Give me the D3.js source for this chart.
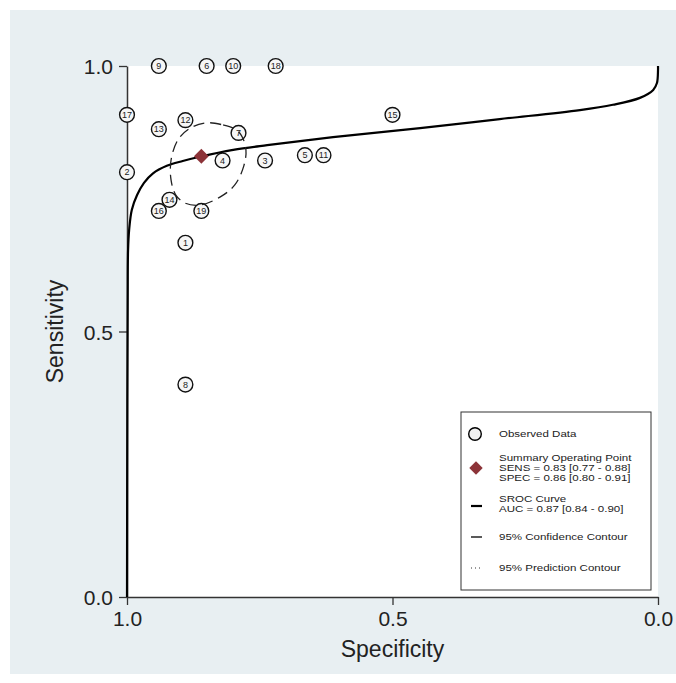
<!DOCTYPE html>
<html>
<head>
<meta charset="utf-8">
<script src="https://cdn.jsdelivr.net/npm/d3@7"></script>
<style>
  body { margin: 0; background: #ffffff; }
  svg text { font-family: "Liberation Sans", Arial, sans-serif; }
</style>
</head>
<body>
<div id="chart"></div>
<script>
// study points (specificity, sensitivity)
var studyIds  = [1, 2, 3, 4, 5, 6, 7, 8, 9, 10, 11, 12, 13, 14, 15, 16, 17, 18, 19];
var studySpec = [0.89, 1.00, 0.74, 0.82, 0.665, 0.85, 0.79, 0.89, 0.94, 0.80, 0.63, 0.89, 0.94, 0.92, 0.50, 0.94, 1.00, 0.72, 0.86];
var studySens = [0.667, 0.80, 0.822, 0.822, 0.832, 1.00, 0.874, 0.40, 1.00, 1.00, 0.832, 0.898, 0.881, 0.748, 0.908, 0.727, 0.908, 1.00, 0.727];

// summary operating point
var summarySpec = 0.86;
var summarySens = 0.83;

// SROC curve, traced
var srocSpec = [1.0, 0.9994, 0.9987, 0.998, 0.996, 0.991, 0.981, 0.968, 0.951, 0.925, 0.895, 0.863, 0.800, 0.736, 0.612, 0.448, 0.298, 0.147, 0.085, 0.034, 0.009, 0.002, 0.0, 0.0];
var srocSens = [0.0, 0.371, 0.559, 0.653, 0.691, 0.729, 0.757, 0.780, 0.798, 0.812, 0.821, 0.829, 0.842, 0.851, 0.866, 0.883, 0.900, 0.917, 0.927, 0.940, 0.955, 0.968, 0.992, 1.0];

// 95% confidence contour, traced
var confSpec = [0.849, 0.819, 0.800, 0.785, 0.776, 0.780, 0.797, 0.825, 0.863, 0.891, 0.908, 0.917, 0.917, 0.904, 0.881];
var confSens = [0.893, 0.889, 0.883, 0.870, 0.842, 0.812, 0.776, 0.753, 0.738, 0.742, 0.757, 0.785, 0.823, 0.861, 0.883];

var tickValues = [0, 0.5, 1];

var legendLines = [
  ["Observed Data"],
  ["Summary Operating Point", "SENS = 0.83 [0.77 - 0.88]", "SPEC = 0.86 [0.80 - 0.91]"],
  ["SROC Curve", "AUC = 0.87 [0.84 - 0.90]"],
  ["95% Confidence Contour"],
  ["95% Prediction Contour"]
];

var svgWidth = 676;
var svgHeight = 683;

var margin = { top: 66, right: 18, bottom: 86, left: 127 };
var width = 531;
var height = 531;

var svg = d3.select("#chart")
  .append("svg")
  .attr("width", svgWidth)
  .attr("height", svgHeight);

// outer panel
svg.append("rect")
  .attr("x", 10).attr("y", 10)
  .attr("width", 666).attr("height", 664)
  .attr("fill", "#e8eff2");

var chartGroup = svg.append("g")
  .attr("transform", `translate(${margin.left}, ${margin.top})`);

chartGroup.append("rect")
  .attr("width", width).attr("height", height)
  .attr("fill", "#ffffff");

var xScale = d3.scaleLinear().domain([1, 0]).range([0, width]);
var yScale = d3.scaleLinear().domain([0, 1]).range([height, 0]);

// axes
var bottomAxis = d3.axisBottom(xScale).tickValues(tickValues).tickFormat(d3.format(".1f")).tickSize(8).tickSizeOuter(0);
var leftAxis = d3.axisLeft(yScale).tickValues(tickValues).tickFormat(d3.format(".1f")).tickSize(8).tickSizeOuter(0);

var xAxisG = chartGroup.append("g")
  .attr("transform", `translate(0, ${height})`)
  .call(bottomAxis);
var yAxisG = chartGroup.append("g").call(leftAxis);

[xAxisG, yAxisG].forEach(function(g) {
  g.select(".domain").attr("stroke", "#333").attr("stroke-width", 1.5);
  g.selectAll(".tick line").attr("stroke", "#333").attr("stroke-width", 1.3);
  g.selectAll(".tick text")
    .attr("font-size", "21px")
    .attr("font-family", "Liberation Sans, Arial, sans-serif")
    .attr("fill", "#222");
});
xAxisG.selectAll(".tick text").attr("y", 9).attr("dy", "0.95em");
yAxisG.selectAll(".tick text").attr("x", -14).attr("dy", "0.36em");

// axis titles
chartGroup.append("text")
  .attr("transform", "rotate(-90)")
  .attr("x", -height / 2)
  .attr("y", -64)
  .attr("text-anchor", "middle")
  .attr("font-size", "23px")
  .attr("fill", "#222")
  .text("Sensitivity");

chartGroup.append("text")
  .attr("x", width / 2)
  .attr("y", height + 60)
  .attr("text-anchor", "middle")
  .attr("font-size", "23px")
  .attr("fill", "#222")
  .text("Specificity");

// observed studies
var studies = studyIds.map(function(id, i) {
  return { id: id, spec: studySpec[i], sens: studySens[i] };
});

var studyGroup = chartGroup.selectAll(".study")
  .data(studies)
  .enter()
  .append("g")
  .attr("class", "study")
  .attr("transform", d => `translate(${xScale(d.spec)}, ${yScale(d.sens)})`);

studyGroup.append("circle")
  .attr("r", 7.4)
  .attr("fill", "#f6f6f6")
  .attr("stroke", "#111")
  .attr("stroke-width", 1.4);

studyGroup.append("text")
  .attr("text-anchor", "middle")
  .attr("dy", "0.36em")
  .attr("font-size", "9px")
  .attr("fill", "#222")
  .text(d => d.id);

// SROC curve
var srocData = srocSpec.map((s, i) => [s, srocSens[i]]);
var line = d3.line()
  .x(d => xScale(d[0]))
  .y(d => yScale(d[1]))
  .curve(d3.curveCatmullRom);

chartGroup.append("path")
  .datum(srocData)
  .attr("d", line)
  .attr("fill", "none")
  .attr("stroke", "#000")
  .attr("stroke-width", 2.2);

// confidence contour
var confData = confSpec.map((s, i) => [s, confSens[i]]);
chartGroup.append("path")
  .datum(confData)
  .attr("d", d3.line().x(d => xScale(d[0])).y(d => yScale(d[1])).curve(d3.curveCatmullRomClosed))
  .attr("fill", "none")
  .attr("stroke", "#222")
  .attr("stroke-width", 1.3)
  .attr("stroke-dasharray", "11,6");

// summary point
chartGroup.append("path")
  .attr("d", d3.symbol().type(d3.symbolDiamond2).size(140))
  .attr("transform", `translate(${xScale(summarySpec)}, ${yScale(summarySens)})`)
  .attr("fill", "#8c3338");

// legend
var legend = svg.append("g").attr("transform", "translate(461, 412)");
legend.append("rect")
  .attr("width", 190).attr("height", 178)
  .attr("fill", "#ffffff")
  .attr("stroke", "#333")
  .attr("stroke-width", 1);

var legendY = [22, 46, 87, 125, 156];
var lineGap = 10;

legend.append("circle")
  .attr("cx", 14).attr("cy", legendY[0])
  .attr("r", 6.3)
  .attr("fill", "#f0f0f0")
  .attr("stroke", "#000")
  .attr("stroke-width", 1.4);

legend.append("path")
  .attr("d", d3.symbol().type(d3.symbolDiamond2).size(115))
  .attr("transform", `translate(15, ${legendY[1] + lineGap})`)
  .attr("fill", "#8c3338");

legend.append("line")
  .attr("x1", 10).attr("x2", 21)
  .attr("y1", legendY[2] + 7).attr("y2", legendY[2] + 7)
  .attr("stroke", "#000").attr("stroke-width", 2.2);

legend.append("line")
  .attr("x1", 10).attr("x2", 21)
  .attr("y1", legendY[3]).attr("y2", legendY[3])
  .attr("stroke", "#000").attr("stroke-width", 1.3);

legend.append("line")
  .attr("x1", 10).attr("x2", 21)
  .attr("y1", legendY[4]).attr("y2", legendY[4])
  .attr("stroke", "#333").attr("stroke-width", 1)
  .attr("stroke-dasharray", "1,3");

// legend text is a bit wide in the original, stretch it horizontally
// multi-line entries are one text element with tspans
var legendText = legend.append("g").attr("transform", "translate(38, 0) scale(1.2, 1)");
legendLines.forEach(function(lines, i) {
  var t = legendText.append("text")
    .attr("font-size", "9.6px")
    .attr("fill", "#222");
  lines.forEach(function(s, j) {
    t.append("tspan")
      .attr("x", 0)
      .attr("y", legendY[i] + j * lineGap)
      .attr("dy", "0.35em")
      .text(s);
  });
});
</script>
</body>
</html>
